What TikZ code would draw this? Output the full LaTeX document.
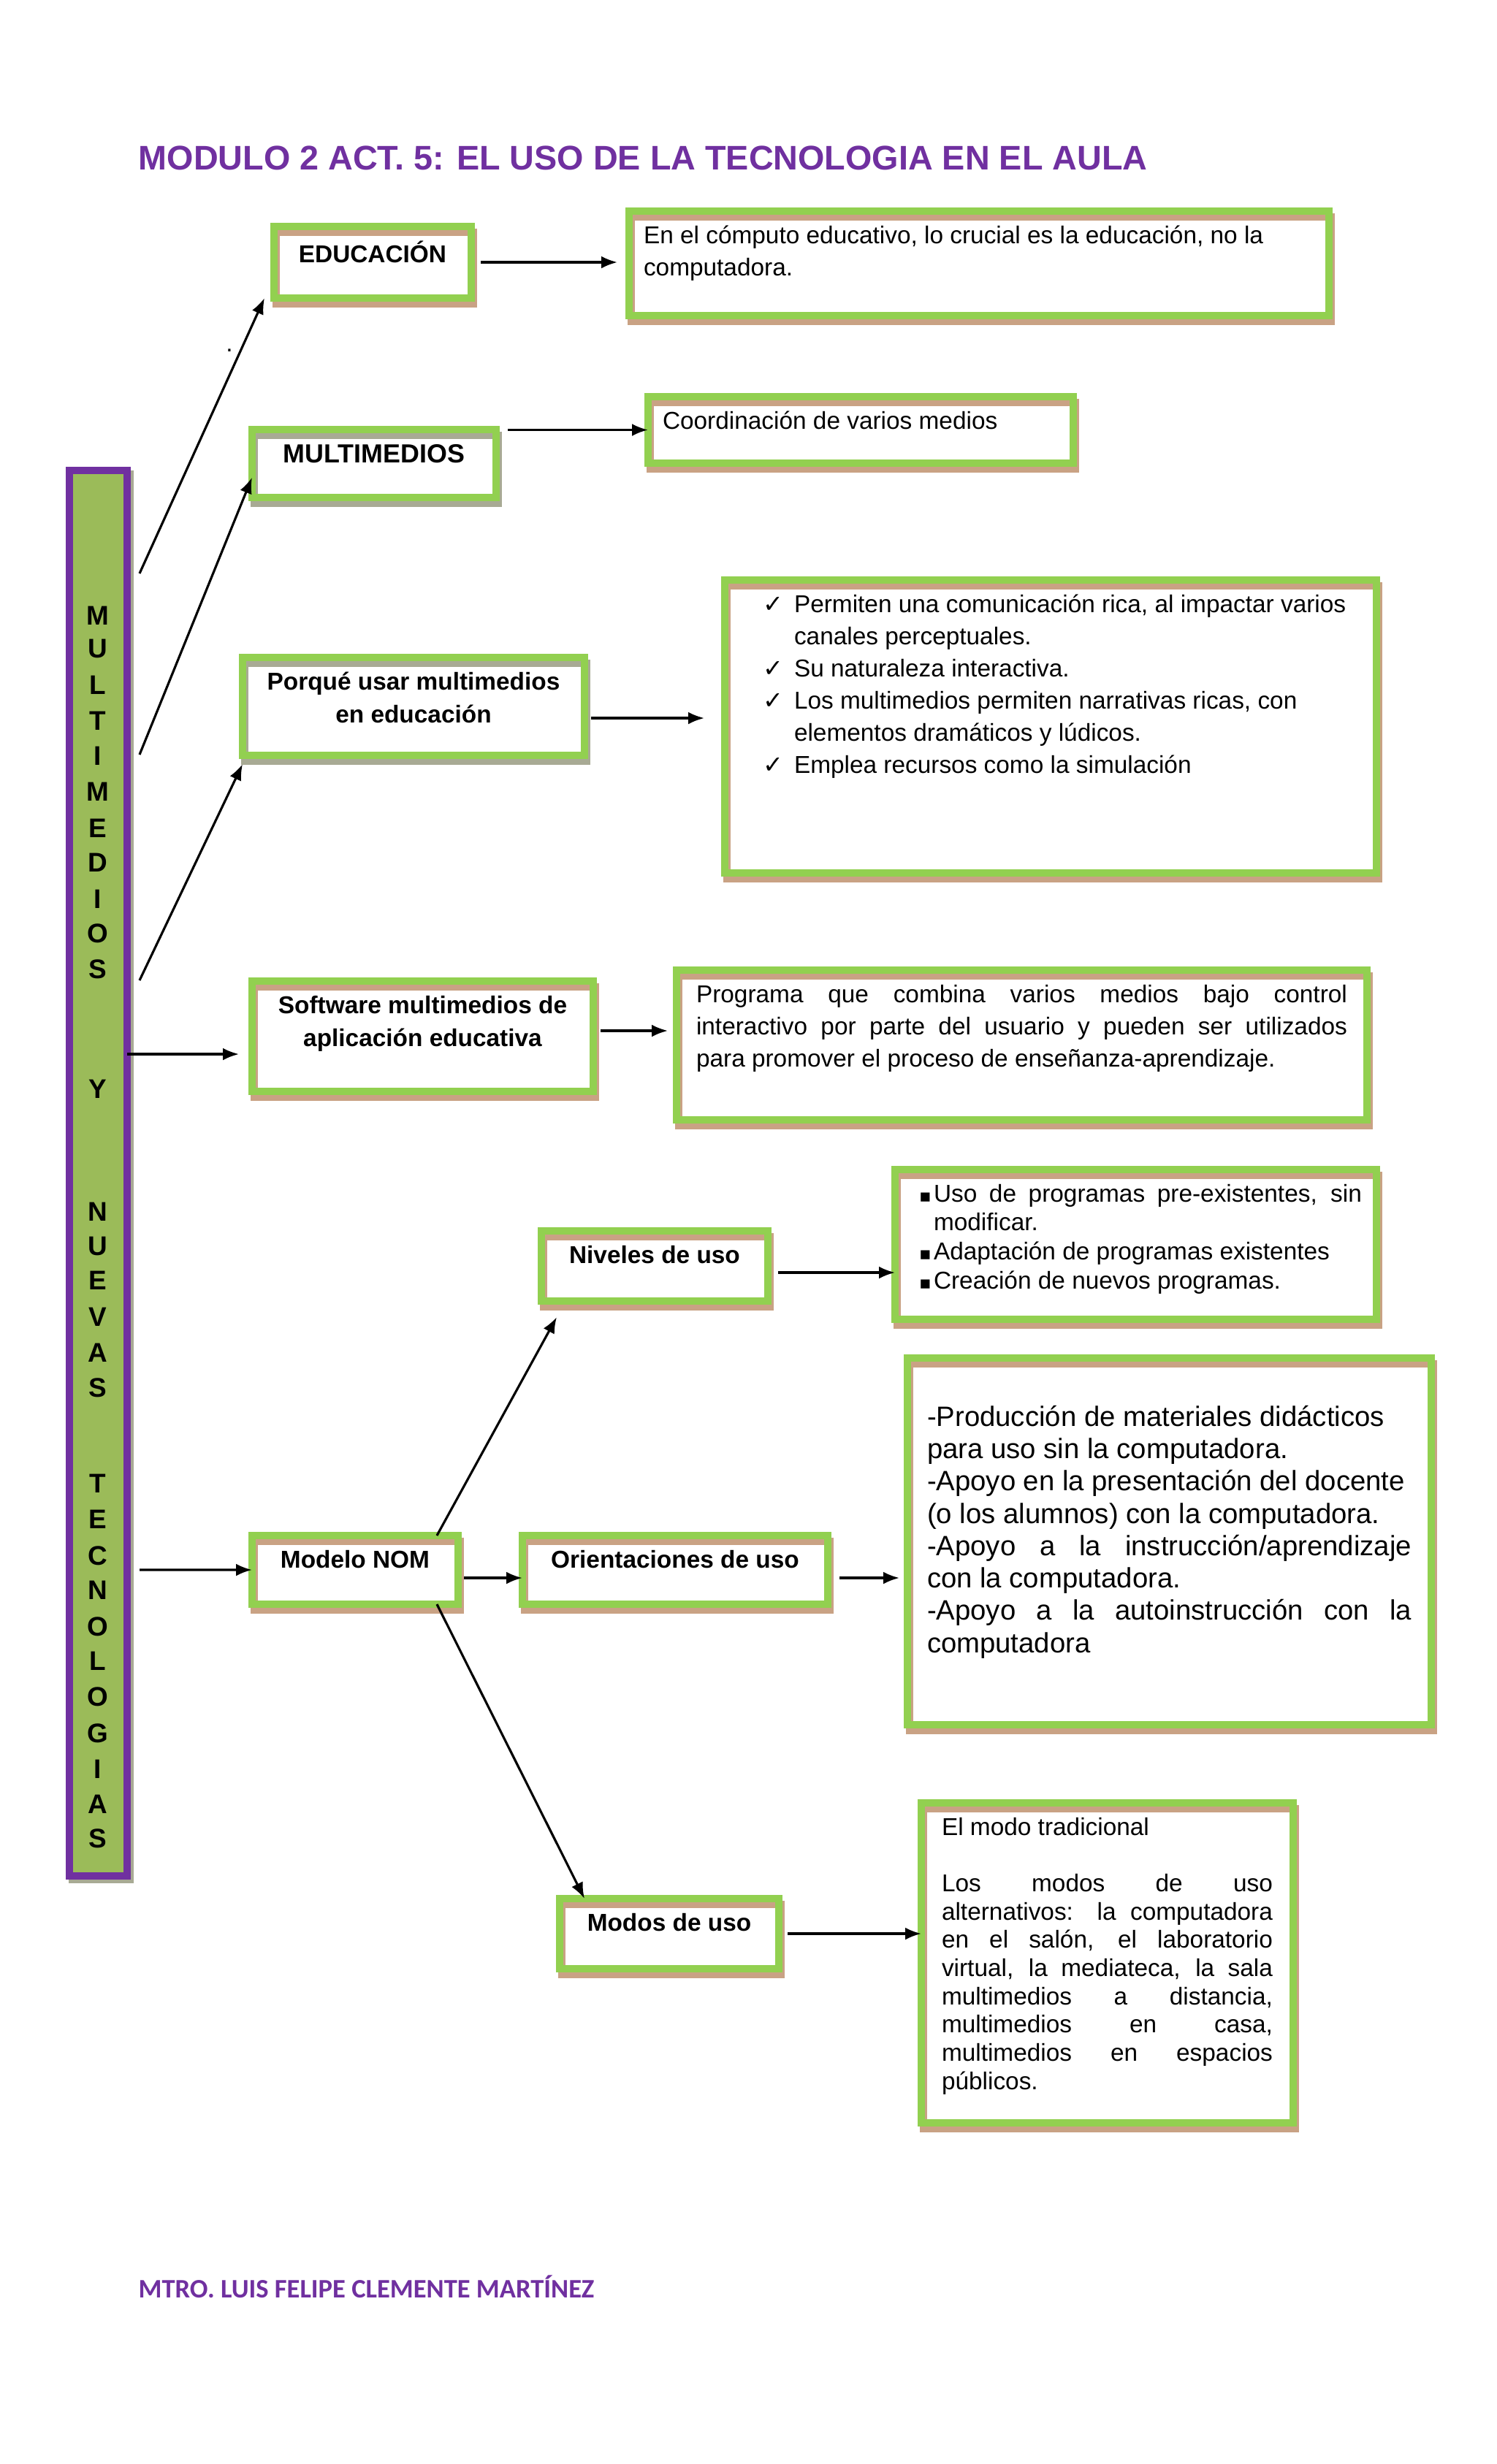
\documentclass[tikz,border=0pt]{standalone}
\usepackage{fontspec}
\setmainfont{Liberation Sans}
\newfontfamily\symfont{DejaVu Sans}
\newfontfamily\footfont{Carlito}
\usetikzlibrary{arrows.meta,positioning,calc}
\definecolor{BoxGreen}{HTML}{92D050}
\definecolor{ShadeTan}{HTML}{C9A284}
\definecolor{ShadeGray}{HTML}{A8AA94}
\definecolor{Purple}{HTML}{7030A0}
\definecolor{BarGreen}{HTML}{9BBB59}

\newcommand{\boxtext}[3]{\parbox[c][#2][t]{#1}{#3}}
\newcommand{\chkitem}[1]{\par\hangindent=0.75cm\hangafter=1\noindent\hspace*{0.32cm}\makebox[0.43cm][l]{\symfont ✓}#1}
\newcommand{\sqitem}[1]{\par\hangindent=0.33cm\hangafter=1\noindent\hspace*{0.13cm}\makebox[0.2cm][l]{\symfont\scriptsize ▪}#1}

\begin{document}
\begin{tikzpicture}[
  box/.style={draw=BoxGreen,line width=0.1cm,anchor=north west,inner sep=0.2cm,outer sep=0pt},
  tanbox/.style={box,preaction={draw=ShadeTan,line width=0.1cm,transform canvas={shift={(0.03,-0.08)}}}},
  graybox/.style={box,preaction={draw=ShadeGray,line width=0.1cm,transform canvas={shift={(0.03,-0.08)}}}},
  lbl/.style={font=\fontsize{9.5}{12.8}\selectfont\bfseries},
  txt/.style={font=\fontsize{9.5}{12.5}\selectfont},
  barletter/.style={font=\fontsize{10.5}{12}\selectfont\bfseries,inner sep=0pt},
  title/.style={anchor=base west,inner sep=0pt,text=Purple,font=\fontsize{13.3}{16}\selectfont\bfseries},
  footer/.style={anchor=base west,inner sep=0pt,text=Purple,font=\footfont\fontsize{10.4}{12}\selectfont\bfseries},
  arr/.style={-{Latex[length=0.22cm,width=0.17cm]},line width=0.9pt}
]
  \path[use as bounding box,fill=white] (0,0) rectangle (20.48,-33.73);

  \node[title] (title) at (1.89,-2.32) {MODULO 2 ACT. 5: EL USO DE LA TECNOLOGIA EN EL AULA};
  \node[footer] (author) at (1.89,-31.45) {MTRO. LUIS FELIPE CLEMENTE MARTÍNEZ};

  \node[draw=Purple,line width=0.1cm,fill=BarGreen,minimum width=0.79cm,minimum height=19.24cm,
    anchor=north west,inner sep=0pt,outer sep=0pt,
    preaction={draw=ShadeGray,fill=ShadeGray,line width=0.1cm,transform canvas={shift={(0.04,-0.05)}}}] (bar) at (0.95,-6.44) {};
  \foreach \ch/\yy [count=\k] in {M/8.43,U/8.88,L/9.38,T/9.87,I/10.35,M/10.84,E/11.34,D/11.81,I/12.31,O/12.78,S/13.27,
      Y/14.91,N/16.59,U/17.06,E/17.53,V/18.03,A/18.52,S/19.00,
      T/20.31,E/20.80,C/21.30,N/21.77,O/22.27,L/22.74,O/23.23,G/23.73,I/24.22,A/24.70,S/25.17}
    \node[barletter] (ltr\k) at (1.34,-\yy) {\ch};

  \node[tanbox,lbl] (educ) at (3.75,-3.10) {\boxtext{2.30cm}{0.58cm}{\centering EDUCACIÓN}};
  \node[tanbox,txt] (educdesc) at (8.61,-2.89) {\boxtext{9.18cm}{1.03cm}{\raggedright En el cómputo educativo, lo crucial es la educación, no la\\ computadora.}};

  \node[graybox,lbl,font=\fontsize{10.2}{12}\selectfont\bfseries] (multi) at (3.45,-5.88) {\boxtext{2.94cm}{0.53cm}{\centering MULTIMEDIOS}};
  \node[tanbox,txt] (coord) at (8.87,-5.43) {\boxtext{5.42cm}{0.51cm}{Coordinación de varios medios}};

  \node[graybox,lbl] (porque) at (3.32,-9.00) {\boxtext{4.28cm}{0.94cm}{\centering Porqué usar multimedios\\ en educación}};
  \node[tanbox,txt] (check) at (9.92,-7.94) {\boxtext{8.52cm}{3.61cm}{\raggedright
    \chkitem{Permiten una comunicación rica, al impactar varios\newline canales perceptuales.}
    \chkitem{Su naturaleza interactiva.}
    \chkitem{Los multimedios permiten narrativas ricas, con\newline elementos dramáticos y lúdicos.}
    \chkitem{Emplea recursos como la simulación}}};

  \node[tanbox,lbl] (soft) at (3.45,-13.43) {\boxtext{4.27cm}{1.11cm}{\centering Software multimedios de\\ aplicación educativa}};
  \node[tanbox,txt,inner xsep=0.27cm] (prog) at (9.26,-13.28) {\boxtext{8.91cm}{1.65cm}{Programa que combina varios medios bajo control\linebreak interactivo por parte del usuario y pueden ser utilizados\linebreak para promover el proceso de enseñanza-aprendizaje.}};

  \node[tanbox,lbl] (niveles) at (7.41,-16.85) {\boxtext{2.70cm}{0.56cm}{\centering Niveles de uso}};
  \node[tanbox,font=\fontsize{9.5}{11.3}\selectfont] (usos) at (12.25,-16.01) {\boxtext{6.19cm}{1.65cm}{%
    \sqitem{Uso de programas pre-existentes, sin\linebreak modificar.}
    \sqitem{Adaptación de programas existentes}
    \sqitem{Creación de nuevos programas.}}};

  \node[tanbox,lbl] (modelo) at (3.45,-21.02) {\boxtext{2.42cm}{0.54cm}{\centering Modelo NOM}};
  \node[tanbox,lbl] (orient) at (7.15,-21.02) {\boxtext{3.78cm}{0.54cm}{\centering Orientaciones de uso}};
  \node[tanbox,font=\fontsize{10.9}{12.6}\selectfont,inner xsep=0.27cm] (prod) at (12.42,-18.59) {\boxtext{6.63cm}{4.62cm}{\vspace*{0.45cm}
    -Producción de materiales didácticos\\ para uso sin la computadora.\par
    -Apoyo en la presentación del docente\\ (o los alumnos) con la computadora.\par
    -Apoyo a la instrucción/aprendizaje\linebreak con la computadora.\par
    -Apoyo a la autoinstrucción con la\linebreak computadora}};

  \node[tanbox,lbl] (modos) at (7.66,-25.99) {\boxtext{2.60cm}{0.56cm}{\centering Modos de uso}};
  \node[tanbox,font=\fontsize{9.5}{11}\selectfont,inner xsep=0.28cm] (elmodo) at (12.61,-24.68) {\boxtext{4.53cm}{3.98cm}{El modo tradicional\par\vspace{11pt}
    Los modos de uso\linebreak alternativos: la computadora\linebreak en el salón, el laboratorio\linebreak virtual, la mediateca, la sala\linebreak multimedios a distancia,\linebreak multimedios en casa,\linebreak multimedios en espacios\linebreak públicos.}};

  \node[txt,inner sep=0pt] (dot) at (3.14,-4.80) {.};

  \coordinate (f1) at (1.91,-7.85);
  \coordinate (f2) at (1.91,-10.33);
  \coordinate (f3) at (1.91,-13.42);
  \coordinate (f4) at (1.74,-14.43);
  \coordinate (f5) at (1.91,-21.49);
  \draw[arr] (f1) -- ([xshift=-0.13cm]educ.south west);
  \draw[arr] (f2) -- ([yshift=-0.19cm]multi.west);
  \draw[arr] (f3) -- ([yshift=-0.12cm]porque.south west);
  \draw[arr,shorten >=0.18cm] (f4) -- (f4 -| soft.west);
  \draw[arr] (f5) -- (modelo.west);

  \draw[arr,shorten <=0.13cm,shorten >=0.16cm] (educ.east) -- (educ.east -| educdesc.west);
  \draw[arr,shorten <=0.16cm] (multi.east |- coord.west) -- (coord.west);
  \draw[arr,shorten <=0.09cm,shorten >=0.28cm] ([yshift=-0.16cm]porque.east) -- ([yshift=-0.16cm]porque.east -| check.west);
  \draw[arr,shorten <=0.1cm,shorten >=0.12cm] ([yshift=0.075cm]soft.east) -- ([yshift=0.075cm]soft.east -| prog.west);
  \draw[arr,shorten <=0.14cm] ([yshift=-0.09cm]niveles.east) -- ([yshift=-0.09cm]niveles.east -| usos.west);
  \draw[arr,shorten <=0.08cm] ([yshift=-0.11cm]modelo.east) -- ([yshift=-0.11cm]modelo.east -| orient.west);
  \draw[arr,shorten <=0.16cm,shorten >=0.11cm] ([yshift=-0.11cm]orient.east) -- ([yshift=-0.11cm]orient.east -| prod.west);
  \draw[arr,shorten <=0.12cm] (modos.east) -- (modos.east -| elmodo.west);
  \draw[arr] ([xshift=1.12cm]modelo.north) -- ([xshift=0.21cm,yshift=-0.22cm]niveles.south west);
  \draw[arr] ([xshift=1.12cm]modelo.south) -- ([xshift=0.34cm]modos.north west);
\end{tikzpicture}
\end{document}
